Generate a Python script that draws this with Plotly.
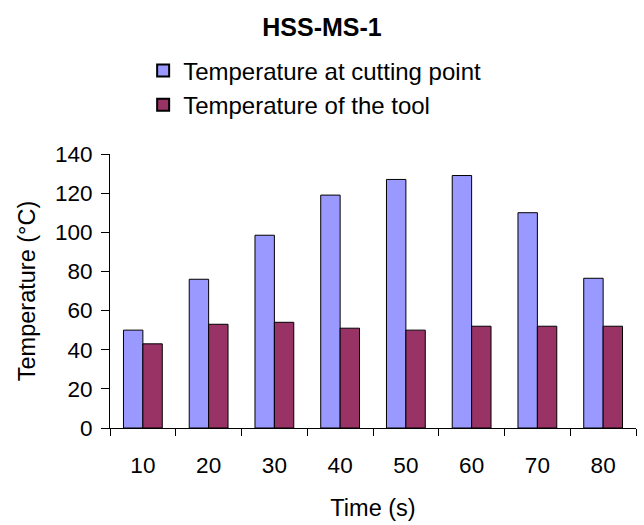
import plotly.graph_objects as go

# Time steps (s) and measured temperatures (°C)
times = ["10", "20", "30", "40", "50", "60", "70", "80"]
temp_cutting_point = [50, 76, 98.5, 119, 127, 129, 110, 76.5]
temp_tool = [43, 53, 54, 51, 50, 52, 52, 52]

FONT = "Liberation Sans, Arial, sans-serif"

fig = go.Figure()
fig.add_trace(go.Bar(
    x=times, y=temp_cutting_point, name="Temperature at cutting point",
    marker=dict(color="#9999FF", line=dict(color="#000000", width=1)),
))
fig.add_trace(go.Bar(
    x=times, y=temp_tool, name="Temperature of the tool",
    marker=dict(color="#993366", line=dict(color="#000000", width=1)),
))

fig.update_layout(
    width=644, height=525,
    margin=dict(l=110, r=8, t=154, b=97),
    paper_bgcolor="white", plot_bgcolor="white",
    font=dict(family=FONT, size=22, color="#000000"),
    title=dict(text="<b>HSS-MS-1</b>", x=0.5, xref="container", xanchor="center",
               y=0.949, yref="container", yanchor="middle",
               font=dict(family=FONT, size=25, color="#000000")),
    barmode="group", bargap=0.41, bargroupgap=0,
    showlegend=True,
    legend=dict(x=0.063, y=1.385, xanchor="left", yanchor="top",
                font=dict(family=FONT, size=24), traceorder="normal",
                bgcolor="rgba(0,0,0,0)", itemsizing="constant",
                tracegroupgap=0),
    xaxis=dict(
        type="category", tickson="boundaries",
        ticks="outside", ticklen=7, tickcolor="#000000", tickwidth=1,
        showline=True, linecolor="#000000", linewidth=1,
        showgrid=False, zeroline=False,
        tickfont=dict(family=FONT, size=22.5),
        ticklabelstandoff=17,
        title=dict(text="Time (s)", font=dict(family=FONT, size=23.5), standoff=22),
    ),
    yaxis=dict(
        range=[0, 140], tickvals=[0, 20, 40, 60, 80, 100, 120, 140],
        ticks="outside", ticklen=8, tickcolor="#000000", tickwidth=1,
        showline=True, linecolor="#000000", linewidth=1,
        showgrid=False, zeroline=False,
        tickfont=dict(family=FONT, size=22.5),
        ticklabelstandoff=4,
        title=dict(text="Temperature (°C)", font=dict(family=FONT, size=23.5), standoff=12),
    ),
)

fig.write_html("out.html")
